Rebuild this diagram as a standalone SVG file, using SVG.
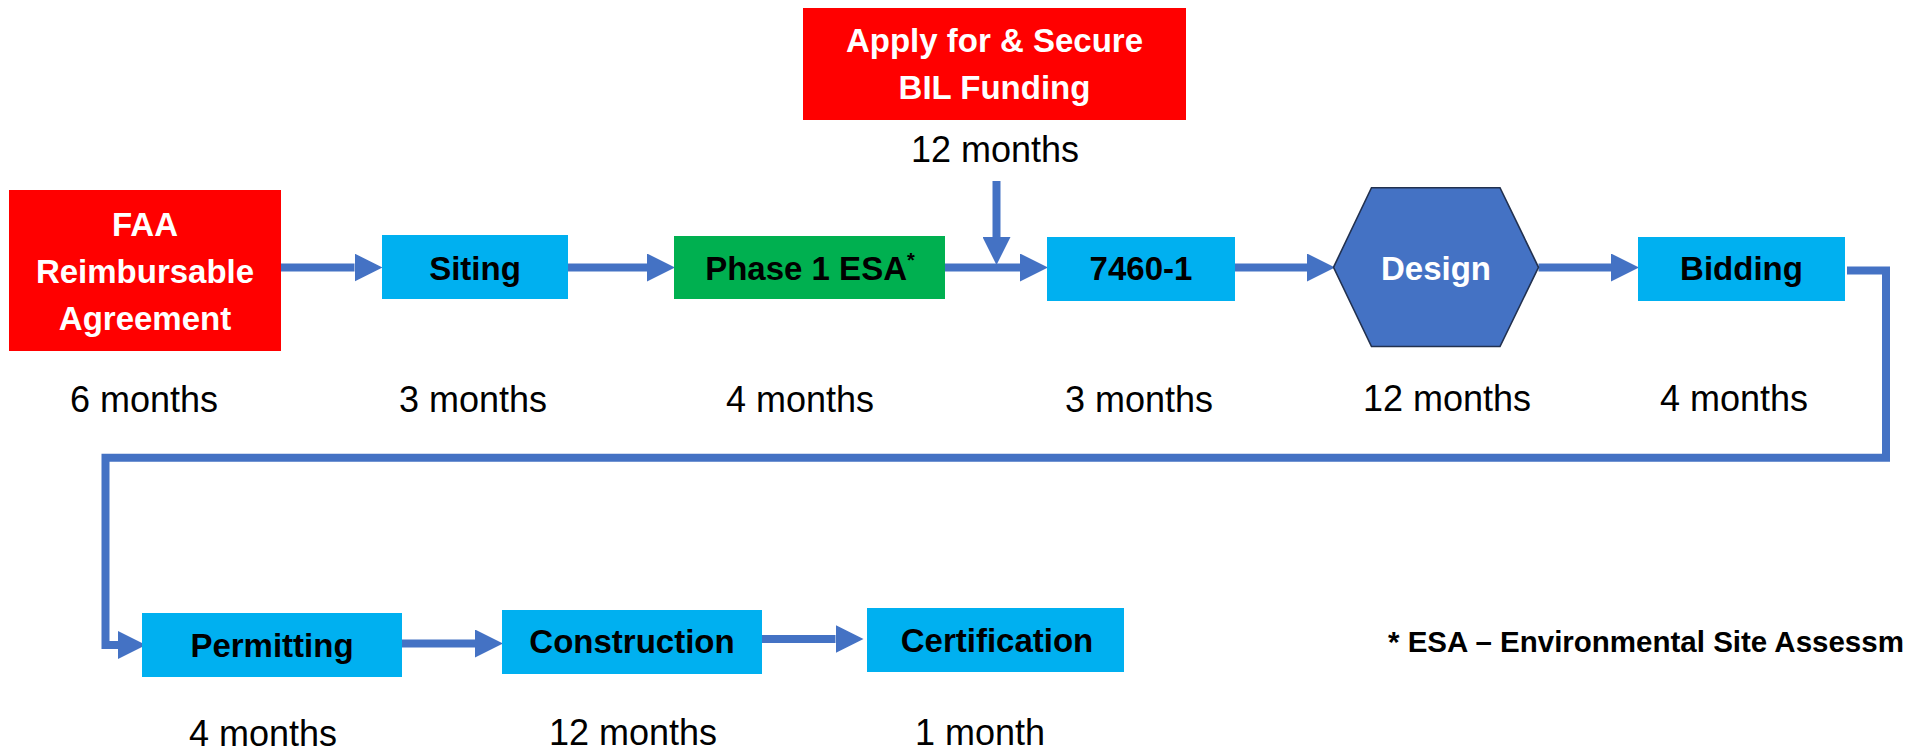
<svg xmlns="http://www.w3.org/2000/svg" width="1906" height="751" viewBox="0 0 1906 751">
  <style>
    .node-label { font-family: "Liberation Sans", Arial, sans-serif; font-weight: bold; font-size: 33px; text-anchor: middle; }
    .dark { fill: #000000; }
    .light { fill: #FFFFFF; }
    .duration { font-family: "Liberation Sans", Arial, sans-serif; font-size: 36px; text-anchor: middle; fill: #000000; }
    .red { fill: #FF0000; }
    .cyan { fill: #00B0F0; }
    .green { fill: #00B050; }
    .flow { fill: none; stroke: #4472C4; stroke-width: 8; stroke-linejoin: miter; stroke-linecap: butt; marker-end: url(#head); }
    .note { font-family: "Liberation Sans", Arial, sans-serif; font-weight: bold; font-size: 29.5px; fill: #000000; }
  </style>
  <defs>
    <marker id="head" markerUnits="userSpaceOnUse" markerWidth="28" markerHeight="28" viewBox="0 0 27 27" refX="0" refY="13.5" orient="auto">
      <path d="M0,0 L27,13.5 L0,27 Z" fill="#4472C4"/>
    </marker>
  </defs>

  <rect width="1906" height="751" fill="#FFFFFF"/>

  <!-- connectors -->
  <g id="connectors">
    <path class="flow" d="M281,267.5 H354.5"/>
    <path class="flow" d="M568,267.5 H647"/>
    <path class="flow" d="M945,267.5 H1020"/>
    <path class="flow" d="M996.5,181 V237"/>
    <path class="flow" d="M1235,267.5 H1307"/>
    <path class="flow" d="M1538.5,267.5 H1611"/>
    <path class="flow" d="M1847,270.5 H1886 V457.8 H105.5 V645 H118"/>
    <path class="flow" d="M402,643.5 H475"/>
    <path class="flow" d="M762,639 H835.5"/>
  </g>

  <!-- first row -->
  <g id="faa-agreement">
    <rect class="red" x="9" y="190" width="272" height="161"/>
    <text class="node-label light" x="145" y="236">FAA</text>
    <text class="node-label light" x="145" y="283">Reimbursable</text>
    <text class="node-label light" x="145" y="330">Agreement</text>
    <text class="duration" x="144" y="412">6 months</text>
  </g>

  <g id="siting">
    <rect class="cyan" x="382" y="235" width="186" height="64"/>
    <text class="node-label dark" x="475" y="280">Siting</text>
    <text class="duration" x="473" y="412">3 months</text>
  </g>

  <g id="phase1-esa">
    <rect class="green" x="674" y="236" width="271" height="63"/>
    <text class="node-label dark" x="810" y="280">Phase 1 ESA<tspan font-size="20" dy="-13">*</tspan></text>
    <text class="duration" x="800" y="412">4 months</text>
  </g>

  <g id="bil-funding">
    <rect class="red" x="803" y="8" width="383" height="112"/>
    <text class="node-label light" x="994.5" y="52">Apply for &amp; Secure</text>
    <text class="node-label light" x="994.5" y="99">BIL Funding</text>
    <text class="duration" x="995" y="162">12 months</text>
  </g>

  <g id="faa-7460-1">
    <rect class="cyan" x="1047" y="237" width="188" height="64"/>
    <text class="node-label dark" x="1141" y="280">7460-1</text>
    <text class="duration" x="1139" y="412">3 months</text>
  </g>

  <g id="design">
    <polygon points="1371.5,187.7 1500,187.7 1538.5,267.3 1500,346.5 1371.5,346.5 1333.5,267.3" fill="#4472C4" stroke="#22314F" stroke-width="1.6"/>
    <text class="node-label light" x="1436" y="280">Design</text>
    <text class="duration" x="1447" y="411">12 months</text>
  </g>

  <g id="bidding">
    <rect class="cyan" x="1638" y="237" width="207" height="64"/>
    <text class="node-label dark" x="1741.5" y="280">Bidding</text>
    <text class="duration" x="1734" y="411">4 months</text>
  </g>

  <!-- second row -->
  <g id="permitting">
    <rect class="cyan" x="142" y="613" width="260" height="64"/>
    <text class="node-label dark" x="272" y="657">Permitting</text>
    <text class="duration" x="263" y="746">4 months</text>
  </g>

  <g id="construction">
    <rect class="cyan" x="502" y="610" width="260" height="64"/>
    <text class="node-label dark" x="632" y="653">Construction</text>
    <text class="duration" x="633" y="745">12 months</text>
  </g>

  <g id="certification">
    <rect class="cyan" x="867" y="608" width="257" height="64"/>
    <text class="node-label dark" x="997" y="652">Certification</text>
    <text class="duration" x="980" y="745">1 month</text>
  </g>

  <g id="footnote">
    <text class="note" x="1388" y="652">* ESA – Environmental Site Assessm</text>
  </g>
</svg>
